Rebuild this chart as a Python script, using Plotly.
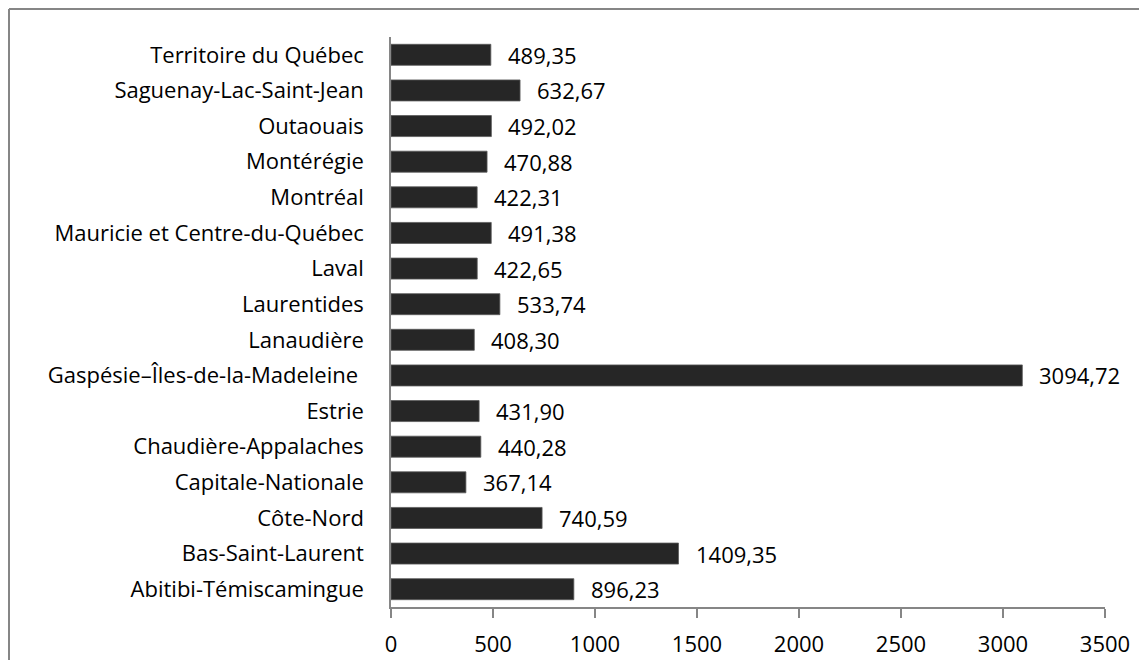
import plotly.graph_objects as go

# bottom to top, as drawn
regions = [
    "Abitibi-Témiscamingue",
    "Bas-Saint-Laurent",
    "Côte-Nord",
    "Capitale-Nationale",
    "Chaudière-Appalaches",
    "Estrie",
    "Gaspésie–Îles-de-la-Madeleine ",
    "Lanaudière",
    "Laurentides",
    "Laval",
    "Mauricie et Centre-du-Québec",
    "Montréal",
    "Montérégie",
    "Outaouais",
    "Saguenay-Lac-Saint-Jean",
    "Territoire du Québec",
]
values = [
    896.23, 1409.35, 740.59, 367.14, 440.28, 431.90, 3094.72, 408.30,
    533.74, 422.65, 491.38, 422.31, 470.88, 492.02, 632.67, 489.35,
]
x_ticks = [0, 500, 1000, 1500, 2000, 2500, 3000, 3500]

# page body has an 8px margin all round, so keep the figure inside it
W, H = 1131, 652
L, R, T, B = 383, 34, 29, 53
gray = "#868686"
font = dict(family="Open Sans", size=22, color="black")

fig = go.Figure(go.Bar(
    x=values,
    y=regions,
    orientation="h",
    marker=dict(color="#262626", line=dict(color="#5a5a5a", width=0.8)),
))

# value labels, comma decimal like the source
for v, r in zip(values, regions):
    fig.add_annotation(
        x=v, y=r, text=f"{v:.2f}".replace(".", ","),
        showarrow=False, xanchor="left", xshift=15, font=font,
    )

# outer chart border: only top and left edges are visible in the source
pw, ph = W - L - R, H - T - B
bx0, by1 = (1 - L) / pw, 1 + (T - 1) / ph
border = dict(color=gray, width=2)
fig.add_shape(type="line", xref="paper", yref="paper",
              x0=bx0, x1=1 + R / pw, y0=by1, y1=by1, line=border)
fig.add_shape(type="line", xref="paper", yref="paper",
              x0=bx0, x1=bx0, y0=-B / ph, y1=by1, line=border)

fig.update_xaxes(
    range=[0, 3500], tickvals=x_ticks, showgrid=False, zeroline=False,
    showline=True, linecolor=gray, linewidth=1.5,
    ticks="outside", ticklen=9, tickcolor=gray, tickwidth=1.5,
    ticklabelstandoff=8, automargin=False,
)
fig.update_yaxes(
    showgrid=False, showline=True, linecolor=gray, linewidth=1.5,
    ticks="", ticklabelstandoff=21, automargin=False,
)
fig.update_layout(
    width=W, height=H,
    margin=dict(l=L, r=R, t=T, b=B, pad=0),
    bargap=0.41,
    font=font,
    plot_bgcolor="white",
    paper_bgcolor="white",
    showlegend=False,
)

fig.write_html("out.html")
